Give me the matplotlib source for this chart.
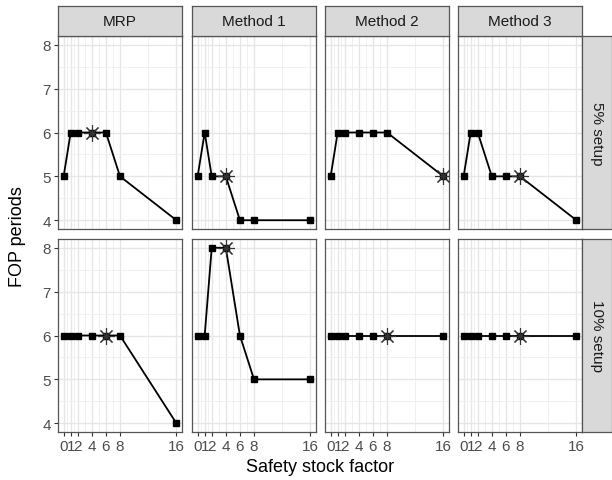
import matplotlib
matplotlib.use("Agg")
import matplotlib.pyplot as plt

plt.rcParams['font.family'] = ['Liberation Sans', 'DejaVu Sans']

# data
ssf = [0, 1, 2, 4, 6, 8, 16]
methods = ["MRP", "Method 1", "Method 2", "Method 3"]
setups = ["5% setup", "10% setup"]

fop_5 = {
    "MRP":      [5, 6, 6, 6, 6, 5, 4],
    "Method 1": [5, 6, 5, 5, 4, 4, 4],
    "Method 2": [5, 6, 6, 6, 6, 6, 5],
    "Method 3": [5, 6, 6, 5, 5, 5, 4],
}
fop_10 = {
    "MRP":      [6, 6, 6, 6, 6, 6, 4],
    "Method 1": [6, 6, 8, 8, 6, 5, 5],
    "Method 2": [6, 6, 6, 6, 6, 6, 6],
    "Method 3": [6, 6, 6, 6, 6, 6, 6],
}
# best safety stock factor (star)
best_5 = {"MRP": 4, "Method 1": 4, "Method 2": 16, "Method 3": 8}
best_10 = {"MRP": 6, "Method 1": 4, "Method 2": 8, "Method 3": 8}

W, H = 612, 481
fig = plt.figure(figsize=(W / 100, H / 100), dpi=100)

col_left = [58, 192, 325, 458]
row_top = [37, 240]
pw, ph = 124, 193
border = '#555555'
strip_bg = '#D9D9D9'
tick_col = '#4D4D4D'

def px_axes(x, y, w, h):
    return fig.add_axes([x / W, 1 - (y + h) / H, w / W, h / H])

for r, (setup, data, best) in enumerate([(setups[0], fop_5, best_5), (setups[1], fop_10, best_10)]):
    for c, m in enumerate(methods):
        ax = px_axes(col_left[c], row_top[r], pw, ph)
        ax.set_xlim(-0.8, 16.8)
        ax.set_ylim(3.8, 8.2)
        ax.set_xticks(ssf)
        ax.set_xticks([0.5, 1.5, 3, 5, 7, 12], minor=True)
        ax.set_yticks([4, 5, 6, 7, 8])
        ax.set_yticks([4.5, 5.5, 6.5, 7.5], minor=True)
        ax.grid(which='major', color='#E6E6E6', lw=1.0)
        ax.grid(which='minor', color='#F0F0F0', lw=0.7)
        ax.set_axisbelow(True)
        for s in ax.spines.values():
            s.set_color(border)
            s.set_linewidth(0.9)
        ax.tick_params(which='minor', length=0)
        ax.tick_params(which='major', length=3, color='#333333', width=0.8,
                       labelcolor=tick_col, labelsize=11, pad=2)
        ys = data[m]
        ax.plot(ssf, ys, color='black', lw=1.3, marker='s', ms=5, zorder=3)
        bx = best[m]
        by = ys[ssf.index(bx)]
        ax.plot([bx], [by], ls='none', marker=(8, 2, 0), ms=12, mew=0.8,
                color='#333333', zorder=4)
        if c != 0:
            ax.tick_params(axis='y', left=False, labelleft=False)
        if r != 1:
            ax.tick_params(axis='x', bottom=False, labelbottom=False)

        if r == 0:
            sa = px_axes(col_left[c], 7, pw, 30)
            sa.set_facecolor(strip_bg)
            sa.set_xticks([]); sa.set_yticks([])
            for s in sa.spines.values():
                s.set_color(border); s.set_linewidth(0.9)
            sa.text(0.5, 0.5, m, ha='center', va='center', fontsize=11,
                    color='#1A1A1A', transform=sa.transAxes)
    sa = px_axes(582, row_top[r], 30, ph)
    sa.set_facecolor(strip_bg)
    sa.set_xticks([]); sa.set_yticks([])
    for s in sa.spines.values():
        s.set_color(border); s.set_linewidth(0.9)
    sa.text(0.5, 0.5, setup, ha='center', va='center', fontsize=11,
            rotation=-90, color='#1A1A1A', transform=sa.transAxes)

fig.text(320 / W, 1 - 468 / H, 'Safety stock factor', ha='center', va='center', fontsize=13)
fig.text(18 / W, 1 - 237 / H, 'FOP periods', ha='center', va='center', fontsize=13, rotation=90)

fig.savefig('out.png', dpi=100)
